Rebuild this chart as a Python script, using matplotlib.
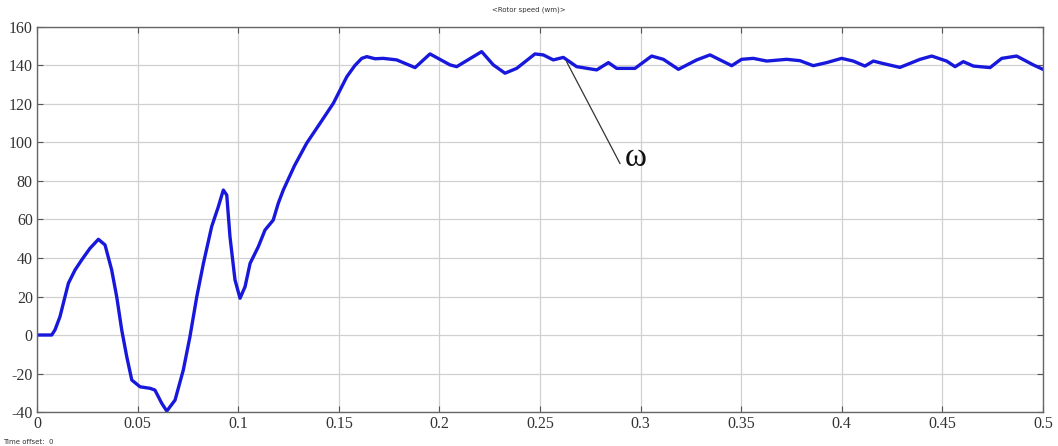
import matplotlib
matplotlib.use("Agg")
import matplotlib.pyplot as plt

# Rotor speed samples (time in s, speed)
time_s = [0.0, 0.004, 0.0073, 0.0089, 0.0114, 0.0139, 0.0156, 0.0189, 0.0222, 0.0263,
          0.0305, 0.0338, 0.0371, 0.0396, 0.0421, 0.0446, 0.0471, 0.0512, 0.0562,
          0.0586, 0.0620, 0.0645, 0.0686, 0.0727, 0.0760, 0.0794, 0.0827, 0.0868,
          0.0901, 0.0926, 0.0943, 0.0959, 0.0984, 0.1009, 0.1034, 0.1059, 0.1100,
          0.1133, 0.1174, 0.1199, 0.1224, 0.1280, 0.1340, 0.1410, 0.1473, 0.1540,
          0.1580, 0.1614, 0.1639, 0.1680, 0.1721, 0.1788, 0.1879, 0.1953, 0.2053,
          0.2086, 0.2210, 0.2268, 0.2326, 0.2384, 0.2475, 0.2516, 0.2566, 0.2616,
          0.2682, 0.2782, 0.2840, 0.2881, 0.2972, 0.3055, 0.3113, 0.3188, 0.3279,
          0.3345, 0.3395, 0.3453, 0.3502, 0.3560, 0.3627, 0.3726, 0.3792, 0.3858,
          0.3925, 0.3999, 0.4057, 0.4115, 0.4157, 0.4198, 0.4289, 0.4389, 0.4447,
          0.4521, 0.4563, 0.4604, 0.4654, 0.4737, 0.4795, 0.4869, 0.4952, 0.5000]
speed = [0.0, 0.0, 0.0, 2.6, 9.5, 19.9, 26.9, 33.8, 39.0, 45.0,
         49.7, 46.8, 33.8, 19.9, 2.6, -11.3, -23.4, -26.9, -27.7,
         -28.6, -35.5, -39.5, -33.8, -18.2, -0.9, 19.9, 37.2, 56.3,
         66.6, 75.3, 72.7, 51.1, 28.6, 19.1, 25.1, 37.2, 45.9,
         54.5, 59.7, 68.4, 75.3, 88.0, 99.6, 110.5, 120.4, 134.2,
         140.0, 143.7, 144.6, 143.5, 143.7, 142.9, 138.9, 146.0, 140.3,
         139.4, 147.2, 140.3, 136.0, 138.5, 146.0, 145.5, 142.9, 144.2,
         139.4, 137.7, 141.5, 138.5, 138.5, 144.9, 143.2, 138.0, 142.9,
         145.5, 142.9, 139.9, 143.2, 143.7, 142.3, 143.2, 142.5, 139.9,
         141.5, 143.7, 142.3, 139.7, 142.3, 141.2, 139.0, 143.2, 144.9,
         142.3, 139.4, 142.0, 139.7, 138.9, 143.7, 144.9, 140.3, 138.0]

x_ticks = [0, 0.05, 0.1, 0.15, 0.2, 0.25, 0.3, 0.35, 0.4, 0.45, 0.5]
x_tick_labels = ["0", "0.05", "0.1", "0.15", "0.2", "0.25", "0.3", "0.35", "0.4", "0.45", "0.5"]
y_ticks = [-40, -20, 0, 20, 40, 60, 80, 100, 120, 140, 160]
y_tick_labels = ["-40", "-20", "0", "20", "40", "60", "80", "100", "120", "140", "160"]

fig = plt.figure(figsize=(10.58, 4.46), dpi=100)
ax = fig.add_axes([0.035, 0.0762, 0.9508, 0.8633])

ax.plot(time_s, speed, color="#1818dc", linewidth=2.4,
        solid_capstyle="round", solid_joinstyle="round")

ax.set_xlim(0, 0.5)
ax.set_ylim(-40, 160)
ax.set_xticks(x_ticks)
ax.set_xticklabels(x_tick_labels)
ax.set_yticks(y_ticks)
ax.set_yticklabels(y_tick_labels)
for lab in ax.get_xticklabels() + ax.get_yticklabels():
    lab.set_family("Liberation Serif")
    lab.set_fontsize(11.5)
    lab.set_color("#333333")
ax.tick_params(direction="in", length=4, color="#555555", top=True, right=True, pad=3)
ax.grid(True, color="#d0d0d0", linewidth=0.9)
for s in ax.spines.values():
    s.set_color("#666666")
    s.set_linewidth(1.0)

# annotation leader line and label
ax.annotate("", xy=(0.2632, 142.0), xytext=(0.2898, 89.0),
            arrowprops=dict(arrowstyle="-", color="#333333", lw=0.9,
                            shrinkA=0, shrinkB=0))
ax.text(0.2978, 92.0, "ω", fontsize=24, family="Liberation Serif",
        ha="center", va="center", color="#111111")

fig.text(0.5, 0.985, "<Rotor speed (wm)>", ha="center", va="top", fontsize=5, color="#333333")
fig.text(0.003, 0.003, "Time offset:  0", ha="left", va="bottom", fontsize=5, color="#333333")

fig.savefig("out.png", dpi=100)
